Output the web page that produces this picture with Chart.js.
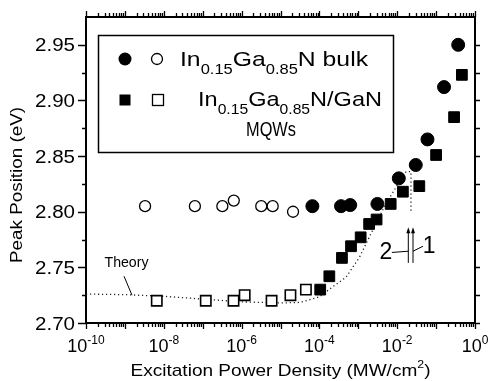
<!DOCTYPE html>
<html>
<head>
<meta charset="utf-8">
<script src="https://cdn.jsdelivr.net/npm/chart.js@4.4.0/dist/chart.umd.min.js"></script>
<style>
  html, body { margin: 0; padding: 0; background: #fff; }
</style>
</head>
<body>
<canvas id="chart" width="490" height="381"></canvas>
<script>
// In0.15Ga0.85N bulk, low power (open circles) and high power (filled circles)
const bulkOpenX = [3.3e-9, 6.3e-8, 3.2e-7, 6.3e-7, 3.2e-6, 6.3e-6, 2.1e-5];
const bulkOpenY = [2.805, 2.805, 2.805, 2.810, 2.805, 2.805, 2.800];
const bulkFillX = [6.6e-5, 3.6e-4, 6.2e-4, 3.1e-3, 1.1e-2, 3.0e-2, 6.0e-2, 0.16, 0.37];
const bulkFillY = [2.805, 2.805, 2.806, 2.807, 2.830, 2.842, 2.865, 2.912, 2.950];

// In0.15Ga0.85N/GaN MQWs, open and filled squares
const mqwOpenX = [6.6e-9, 1.2e-7, 6.2e-7, 1.2e-6, 5.9e-6, 1.8e-5, 4.5e-5];
const mqwOpenY = [2.720, 2.720, 2.720, 2.725, 2.720, 2.725, 2.730];
const mqwFillX = [1.05e-4, 1.8e-4, 3.8e-4, 6.5e-4, 1.15e-3, 1.9e-3, 2.95e-3, 6.8e-3, 1.4e-2, 3.7e-2, 0.10, 0.29, 0.46];
const mqwFillY = [2.730, 2.742, 2.7585, 2.769, 2.777, 2.789, 2.793, 2.807, 2.818, 2.823, 2.851, 2.885, 2.923];

// theory curve (dotted)
const theoryX = [1e-10, 1e-9, 1e-8, 1e-7, 1e-6, 1e-5, 3.2e-5, 1e-4, 2.2e-4, 4.8e-4, 1.07e-3, 1.9e-3, 3e-3, 5.1e-3, 8.3e-3, 1.26e-2, 1.7e-2, 2.26e-2, 2.26e-2];
const theoryY = [2.726, 2.7255, 2.724, 2.7215, 2.719, 2.718, 2.7185, 2.7235, 2.7325, 2.741, 2.759, 2.777, 2.791, 2.807, 2.819, 2.830, 2.836, 2.836, 2.799];

// axes
const xDecadeLabels = [-10, -8, -6, -4, -2, 0];
const yTickLabels = [2.70, 2.75, 2.80, 2.85, 2.90, 2.95];

// annotations, in data units
const theoryNote = { x: 1.1e-9, y: 2.7545, lineX: [9.5e-10, 1.52e-9], lineY: [2.742, 2.725] };
const arrowX = [1.93e-2, 2.55e-2];
const arrowY = [2.754, 2.786];
const note2 = { x: 5.1e-3, y: 2.7645, lineX: [7.3e-3, 1.93e-2], lineY: [2.7634, 2.7645] };
const note1 = { x: 6.6e-2, y: 2.770, lineX: [2.55e-2, 4.6e-2], lineY: [2.7645, 2.769] };

const FONT = '"Liberation Sans", Arial, sans-serif';
const pts = (xs, ys) => xs.map((x, i) => ({ x: x, y: ys[i] }));

// draws a run of text pieces (for sub/superscripts), squeezed to a width if given
function drawParts(ctx, parts, x, y, width, align) {
    let natural = 0;
    parts.forEach(p => {
        ctx.font = p.size + 'px ' + FONT;
        p.w = ctx.measureText(p.t).width;
        natural += p.w;
    });
    const sx = width ? width / natural : 1;
    const total = natural * sx;
    const x0 = align === 'center' ? x - total / 2 : (align === 'right' ? x - total : x);
    ctx.save();
    ctx.translate(x0, y);
    ctx.scale(sx, 1);
    ctx.textAlign = 'left';
    ctx.textBaseline = 'alphabetic';
    ctx.fillStyle = '#000';
    let cx = 0;
    parts.forEach(p => {
        ctx.font = p.size + 'px ' + FONT;
        ctx.fillText(p.t, cx, p.dy || 0);
        cx += p.w;
    });
    ctx.restore();
}

function logTicks(scale) {
    const ticks = [];
    for (let e = -10; e <= 0; e++) {
        for (let m = 1; m <= 9; m++) {
            const v = m * Math.pow(10, e);
            if (v <= 1.0000001) ticks.push({ value: v, major: m === 1 });
        }
    }
    scale.ticks = ticks;
}

function linTicks(scale) {
    const ticks = [];
    for (let k = 0; k <= 10; k++) {
        ticks.push({ value: 2.70 + k * 0.025, major: k % 2 === 0 });
    }
    scale.ticks = ticks;
}

const axisBorder = { display: true, color: '#000', width: 2 };

const decorPlugin = {
    id: 'decor',
    afterDraw(chart) {
        const ctx = chart.ctx;
        const xs = chart.scales.x;
        const ys = chart.scales.y;
        const area = chart.chartArea;
        ctx.save();
        ctx.strokeStyle = '#000';
        ctx.lineWidth = 1.3;

        // tick marks, all pointing outward
        ctx.beginPath();
        xs.ticks.forEach(t => {
            const px = Math.round(xs.getPixelForValue(t.value)) + 0.5;
            const len = t.major ? 6 : 4;
            ctx.moveTo(px, area.bottom);
            ctx.lineTo(px, area.bottom + len);
            ctx.moveTo(px, area.top);
            ctx.lineTo(px, area.top - len);
        });
        ys.ticks.forEach(t => {
            const py = Math.round(ys.getPixelForValue(t.value)) + 0.5;
            ctx.moveTo(area.left, py);
            ctx.lineTo(area.left - (t.major ? 8 : 4), py);
            ctx.moveTo(area.right, py);
            ctx.lineTo(area.right + 5, py);
        });
        ctx.stroke();

        // tick labels
        yTickLabels.forEach(v => {
            const py = ys.getPixelForValue(v);
            drawParts(ctx, [{ t: v.toFixed(2), size: 18 }], area.left - 11, py + 6.5, 40, 'right');
        });
        xDecadeLabels.forEach(e => {
            const px = xs.getPixelForValue(Math.pow(10, e));
            drawParts(ctx, [{ t: '10', size: 18 }, { t: e === 0 ? '0' : String(e), size: 12, dy: -8 }], px, 352, null, 'center');
        });

        // axis titles
        drawParts(ctx, [{ t: 'Excitation Power Density (MW/cm', size: 17 }, { t: '2', size: 11, dy: -8 }, { t: ')', size: 17 }],
            (area.left + area.right) / 2, 376, 300, 'center');
        ctx.save();
        ctx.translate(22, 185);
        ctx.rotate(-Math.PI / 2);
        drawParts(ctx, [{ t: 'Peak Position (eV)', size: 17 }], 0, 0, 156, 'center');
        ctx.restore();

        // legend box
        ctx.lineWidth = 1.5;
        ctx.strokeRect(98.5, 35.5, 295, 117);
        ctx.fillStyle = '#000';
        ctx.beginPath();
        ctx.arc(125, 59, 6.5, 0, Math.PI * 2);
        ctx.fill();
        ctx.beginPath();
        ctx.lineWidth = 1.3;
        ctx.arc(157, 59, 5.5, 0, Math.PI * 2);
        ctx.stroke();
        ctx.fillRect(119.5, 94.5, 11, 11);
        ctx.strokeRect(152.5, 94.5, 11, 11);
        drawParts(ctx, [{ t: 'In', size: 21 }, { t: '0.15', size: 14, dy: 8 }, { t: 'Ga', size: 21 }, { t: '0.85', size: 14, dy: 8 }, { t: 'N bulk', size: 21 }], 180, 66, 188, 'left');
        drawParts(ctx, [{ t: 'In', size: 21 }, { t: '0.15', size: 14, dy: 8 }, { t: 'Ga', size: 21 }, { t: '0.85', size: 14, dy: 8 }, { t: 'N/GaN', size: 21 }], 198, 106, 184, 'left');
        drawParts(ctx, [{ t: 'MQWs', size: 21 }], 246, 136, 50, 'left');

        // "Theory" label with leader
        ctx.lineWidth = 1;
        ctx.beginPath();
        ctx.moveTo(xs.getPixelForValue(theoryNote.lineX[0]), ys.getPixelForValue(theoryNote.lineY[0]));
        ctx.lineTo(xs.getPixelForValue(theoryNote.lineX[1]), ys.getPixelForValue(theoryNote.lineY[1]));
        ctx.stroke();
        drawParts(ctx, [{ t: 'Theory', size: 14 }], xs.getPixelForValue(theoryNote.x), ys.getPixelForValue(theoryNote.y) + 5, 44, 'center');

        // the two arrows and their labels
        arrowX.forEach(v => {
            const px = xs.getPixelForValue(v);
            const yb = ys.getPixelForValue(arrowY[0]);
            const yt = ys.getPixelForValue(arrowY[1]);
            ctx.beginPath();
            ctx.moveTo(px, yb);
            ctx.lineTo(px, yt + 4);
            ctx.stroke();
            ctx.beginPath();
            ctx.moveTo(px, yt);
            ctx.lineTo(px - 2, yt + 6);
            ctx.lineTo(px + 2, yt + 6);
            ctx.closePath();
            ctx.fill();
        });
        [note2, note1].forEach((n, i) => {
            ctx.beginPath();
            ctx.moveTo(xs.getPixelForValue(n.lineX[0]), ys.getPixelForValue(n.lineY[0]));
            ctx.lineTo(xs.getPixelForValue(n.lineX[1]), ys.getPixelForValue(n.lineY[1]));
            ctx.stroke();
            drawParts(ctx, [{ t: i === 0 ? '2' : '1', size: 23 }], xs.getPixelForValue(n.x), ys.getPixelForValue(n.y) + 8, null, 'center');
        });
        ctx.restore();
    }
};

const ctx = document.getElementById('chart').getContext('2d');
new Chart(ctx, {
    type: 'scatter',
    data: {
        datasets: [
            {
                label: 'bulk high',
                data: pts(bulkFillX, bulkFillY),
                pointStyle: 'circle',
                pointRadius: 6.5,
                backgroundColor: '#000',
                borderColor: '#000',
                borderWidth: 1
            },
            {
                label: 'bulk low',
                data: pts(bulkOpenX, bulkOpenY),
                pointStyle: 'circle',
                pointRadius: 5.5,
                backgroundColor: '#fff',
                borderColor: '#000',
                borderWidth: 1.3
            },
            {
                label: 'MQW high',
                data: pts(mqwFillX, mqwFillY),
                pointStyle: 'rect',
                pointRadius: 7.6,
                backgroundColor: '#000',
                borderColor: '#000',
                borderWidth: 1
            },
            {
                label: 'MQW low',
                data: pts(mqwOpenX, mqwOpenY),
                pointStyle: 'rect',
                pointRadius: 7.3,
                backgroundColor: '#fff',
                borderColor: '#000',
                borderWidth: 1.6
            },
            {
                label: 'Theory',
                data: pts(theoryX, theoryY),
                showLine: true,
                pointRadius: 0,
                borderColor: '#222',
                borderWidth: 1.3,
                borderDash: [1.2, 2.8],
                tension: 0
            }
        ]
    },
    options: {
        responsive: false,
        animation: false,
        layout: { padding: 0 },
        plugins: {
            legend: { display: false },
            tooltip: { enabled: false }
        },
        scales: {
            x: {
                type: 'logarithmic',
                position: 'bottom',
                min: 1e-10,
                max: 1,
                grid: { display: false },
                border: axisBorder,
                ticks: { display: false },
                afterBuildTicks: logTicks,
                afterFit: s => { s.height = 58; }
            },
            x2: {
                type: 'logarithmic',
                position: 'top',
                min: 1e-10,
                max: 1,
                grid: { display: false },
                border: axisBorder,
                ticks: { display: false },
                afterFit: s => { s.height = 17; }
            },
            y: {
                type: 'linear',
                position: 'left',
                min: 2.70,
                max: 2.975,
                grid: { display: false },
                border: axisBorder,
                ticks: { display: false },
                afterBuildTicks: linTicks,
                afterFit: s => { s.width = 86; }
            },
            y2: {
                type: 'linear',
                position: 'right',
                min: 2.70,
                max: 2.975,
                grid: { display: false },
                border: axisBorder,
                ticks: { display: false },
                afterFit: s => { s.width = 15; }
            }
        }
    },
    plugins: [decorPlugin]
});
</script>
</body>
</html>
